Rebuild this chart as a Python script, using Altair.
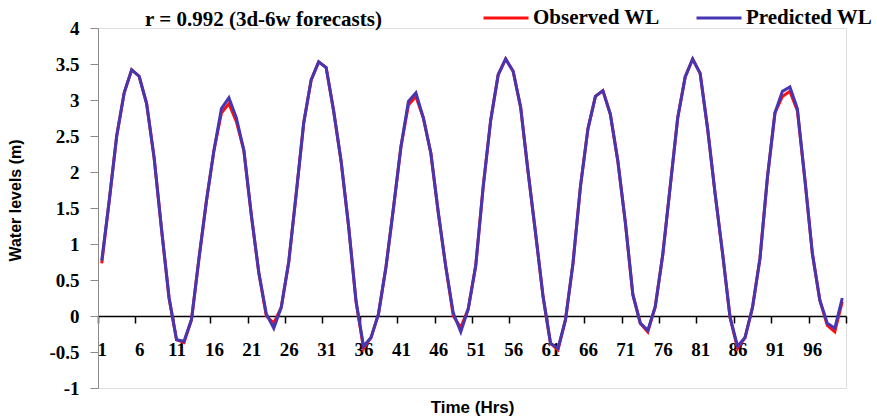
import altair as alt
import pandas as pd

hours = list(range(1, 101))

predicted = [0.77, 1.6, 2.5, 3.1, 3.42, 3.33, 2.95, 2.2, 1.2, 0.25,
             -0.33, -0.35, -0.05, 0.8, 1.6, 2.3, 2.88, 3.03, 2.75, 2.3,
             1.4, 0.6, 0.03, -0.17, 0.12, 0.75, 1.7, 2.68, 3.28, 3.53,
             3.45, 2.85, 2.15, 1.25, 0.2, -0.42, -0.3, 0.03, 0.68, 1.5,
             2.35, 2.98, 3.1, 2.75, 2.26, 1.43, 0.68, 0.04, -0.22, 0.1,
             0.7, 1.8, 2.72, 3.35, 3.57, 3.4, 2.9, 2.0, 1.15, 0.27,
             -0.38, -0.45, -0.05, 0.73, 1.8, 2.6, 3.05, 3.13, 2.8, 2.15,
             1.3, 0.3, -0.1, -0.2, 0.13, 0.85, 1.8, 2.75, 3.32, 3.57,
             3.37, 2.6, 1.7, 0.87, -0.02, -0.42, -0.3, 0.12, 0.8, 1.93,
             2.82, 3.12, 3.18, 2.88, 1.9, 0.87, 0.22, -0.1, -0.17, 0.25]

observed = [0.73, 1.6, 2.5, 3.1, 3.42, 3.33, 2.95, 2.2, 1.2, 0.25,
            -0.33, -0.37, -0.05, 0.8, 1.6, 2.3, 2.82, 2.95, 2.7, 2.3,
            1.4, 0.6, 0.0, -0.1, 0.12, 0.75, 1.7, 2.68, 3.28, 3.53,
            3.45, 2.85, 2.15, 1.25, 0.2, -0.45, -0.3, 0.03, 0.68, 1.5,
            2.35, 2.93, 3.05, 2.75, 2.26, 1.43, 0.68, 0.0, -0.16, 0.1,
            0.7, 1.8, 2.72, 3.35, 3.57, 3.4, 2.9, 2.0, 1.15, 0.27,
            -0.38, -0.47, -0.05, 0.73, 1.8, 2.6, 3.05, 3.13, 2.8, 2.15,
            1.3, 0.3, -0.1, -0.22, 0.13, 0.85, 1.8, 2.75, 3.32, 3.57,
            3.37, 2.6, 1.7, 0.87, -0.02, -0.45, -0.3, 0.12, 0.8, 1.93,
            2.82, 3.05, 3.12, 2.85, 1.9, 0.87, 0.22, -0.13, -0.22, 0.2]

series_names = ["Observed WL", "Predicted WL"]
series_colors = ["#FF1010", "#4636B4"]

x_label_values = list(range(1, 100, 5))
x_tick_values = [v - 0.5 for v in range(1, 102, 5)]
y_values = [-1, -0.5, 0, 0.5, 1, 1.5, 2, 2.5, 3, 3.5, 4]

df_obs = pd.DataFrame({"t": hours, "wl": observed, "series": series_names[0]})
df_pred = pd.DataFrame({"t": hours, "wl": predicted, "series": series_names[1]})

SERIF = "Liberation Serif"
SANS = "Liberation Sans"

xscale = alt.Scale(domain=[0.5, 100.5], nice=False, zero=False)
yscale = alt.Scale(domain=[-1, 4], nice=False)

color = alt.Color(
    "series:N",
    scale=alt.Scale(domain=series_names, range=series_colors),
    legend=alt.Legend(
        title=None, orient="none", legendX=384, legendY=-34,
        direction="horizontal", symbolType="stroke", symbolSize=2025,
        symbolStrokeWidth=3, labelFont=SERIF, labelFontWeight="bold",
        labelFontSize=21, labelColor="black", labelOffset=3,
        columnPadding=30, padding=0, labelLimit=300,
    ),
)

yaxis = alt.Axis(
    values=y_values, grid=False, domainColor="#8a8a8a", tickColor="#8a8a8a",
    tickSize=8, labelFont=SERIF, labelFontWeight="bold", labelFontSize=19,
    labelColor="black", labelPadding=11, labelExpr="'' + datum.value",
    title="Water levels (m)", titleFont=SANS, titleFontWeight="bold",
    titleFontSize=16, titleColor="black", titleAngle=270,
    titleBaseline="middle", titleX=-83, titleY=172,
)

obs = alt.Chart(df_obs).mark_line(strokeWidth=3).encode(
    x=alt.X("t:Q", scale=xscale, axis=alt.Axis(
        values=x_tick_values, labels=False, grid=False, offset=-72,
        domainColor="black", domainWidth=1.5, tickColor="black", tickSize=7,
        tickWidth=1.5, orient="bottom",
        title="Time (Hrs)", titleFont=SANS, titleFontWeight="bold",
        titleFontSize=17, titleColor="black", titleBaseline="middle",
        titleY=91,
    )),
    y=alt.Y("wl:Q", scale=yscale, axis=yaxis),
    color=color,
)

pred = alt.Chart(df_pred).mark_line(strokeWidth=3).encode(
    x=alt.X("t:Q", scale=xscale, axis=alt.Axis(
        values=x_label_values, ticks=False, domain=False, grid=False,
        offset=-72, orient="bottom", labelFont=SERIF, labelFontWeight="bold",
        labelFontSize=19, labelColor="black", labelPadding=24, title="",
    )),
    y=alt.Y("wl:Q", scale=yscale, axis=yaxis),
    color=color,
)

chart = alt.layer(obs, pred).resolve_axis(x="independent").properties(
    width=748, height=360,
    autosize=alt.AutoSizeParams(type="none"),
    padding={"left": 98, "top": 28, "right": 31, "bottom": 30},
    title=alt.TitleParams(
        "r = 0.992 (3d-6w forecasts)", anchor="start", frame="group",
        dx=47, dy=40, offset=4, font=SERIF, fontWeight="bold", fontSize=21,
        color="black",
    ),
).configure_view(stroke=None).configure(background="white")

chart.save("out.html", embed_options={"renderer": "svg", "actions": False})
